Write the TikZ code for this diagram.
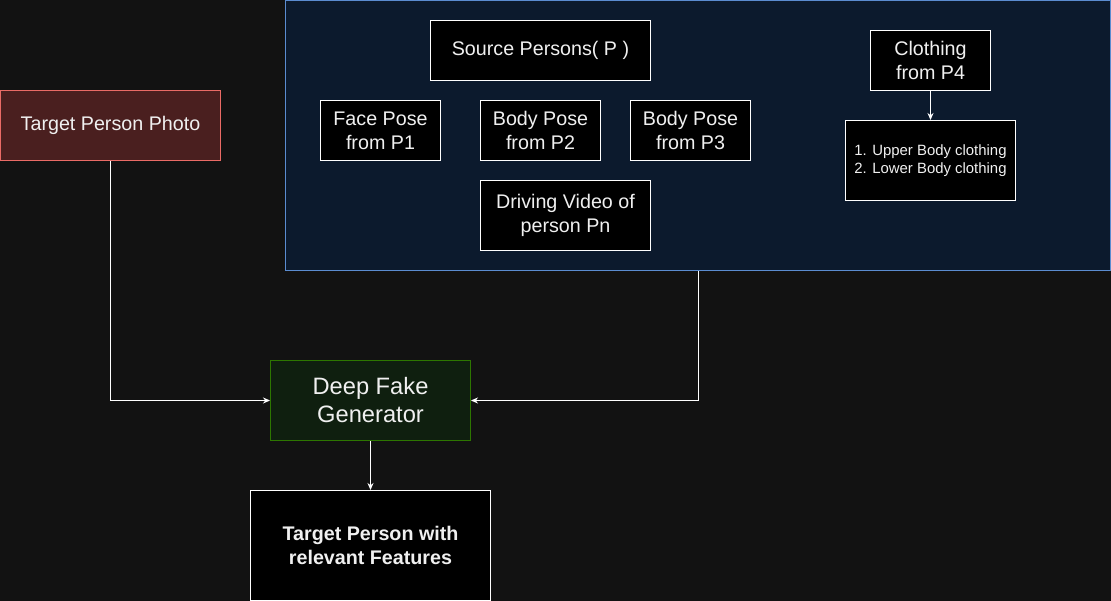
\documentclass[tikz,border=0pt]{standalone}
\usepackage{fontspec}
\setmainfont{Liberation Sans}
\usetikzlibrary{arrows.meta}
\definecolor{bg}{HTML}{121212}
\definecolor{fg}{HTML}{F0F0F0}
\definecolor{grpfill}{HTML}{0C1A2D}
\definecolor{grpline}{HTML}{5B8CD0}
\definecolor{redfill}{HTML}{4A1F1F}
\definecolor{redline}{HTML}{EA6B66}
\definecolor{grnfill}{HTML}{0F1F0F}
\definecolor{grnline}{HTML}{2D7600}
\tikzset{
  base/.style={draw=white, fill=black, text=fg, align=center, inner sep=0pt, line width=1pt,
    font=\fontsize{19.7}{24}\selectfont},
  wbox/.style={base, minimum width=120pt, minimum height=60pt},
  conn/.style={draw=white, line width=1pt, -{Stealth[length=7pt,width=6pt]}}
}
\begin{document}
\begin{tikzpicture}[x=1pt,y=-1pt]
\fill[bg] (0,0) rectangle (1111,601);
\useasboundingbox (0,0) rectangle (1111,601);
\node[base, draw=grpline, fill=grpfill, minimum width=825pt, minimum height=270pt] (grp) at (698,135.5) {};
\node[base, draw=redline, fill=redfill, minimum width=220pt, minimum height=70pt] (photo) at (110.5,125.5) {Target Person Photo};
\node[wbox, minimum width=220pt] (src) at (540.5,50.5) {Source Persons( P )};
\node[wbox] (face) at (380.5,130.5) {Face Pose\\from P1};
\node[wbox] (body2) at (540.5,130.5) {Body Pose\\from P2};
\node[wbox] (body3) at (690.5,130.5) {Body Pose\\from P3};
\node[wbox, minimum width=170pt, minimum height=70pt] (drive) at (565.5,215.5) {Driving Video of\\person Pn};
\node[wbox] (cloth) at (930.5,60.5) {Clothing\\from P4};
\node[wbox, minimum width=170pt, minimum height=80pt, font=\fontsize{14.9}{18}\selectfont, align=left] (list) at (930.5,160.5) {1. Upper Body clothing\\2. Lower Body clothing};
\node[base, draw=grnline, fill=grnfill, minimum width=200pt, minimum height=80pt, font=\fontsize{23.7}{28}\selectfont] (dfg) at (370.5,400.5) {Deep Fake\\Generator};
\node[base, minimum width=240pt, minimum height=110pt, font=\fontsize{19.7}{24}\selectfont\bfseries] (res) at (370.5,545.5) {Target Person with\\relevant Features};
\draw[conn] (photo.south) |- (dfg.west);
\draw[conn] (grp.south) |- (dfg.east);
\draw[conn] (dfg.south) -- (res.north);
\draw[conn] (cloth.south) -- (list.north);
\end{tikzpicture}
\end{document}
